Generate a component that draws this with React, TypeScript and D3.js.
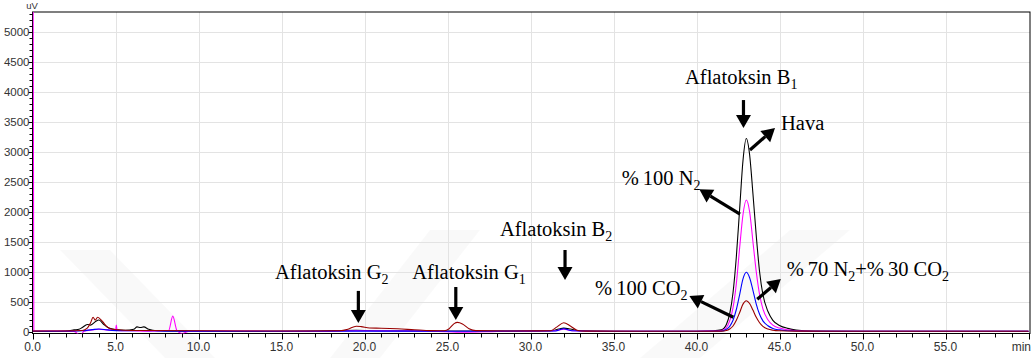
import React, { useEffect, useRef } from 'react';
import * as d3 from 'd3';

// chromatogram traces, [time (min), signal (uV)]
const havaSeries: [number, number][] = [
  [0, 5], [1.5, 8], [2.2, 15], [2.5, 30], [2.8, 40], [3.0, 70], [3.3, 120], [3.5, 110], [3.8, 170],
  [4.0, 195], [4.3, 120], [4.6, 60], [5.0, 35], [5.6, 25], [6.1, 40], [6.3, 80], [6.5, 70], [6.7, 80],
  [7.0, 40], [7.5, 15], [9, 10], [12, 8], [17, 10], [19.5, 25], [21, 15], [25.5, 12], [28, 10],
  [31.3, 15], [31.7, 45], [32.0, 60], [32.4, 45], [32.9, 15], [35, 8], [40, 8], [41.0, 15],
  [41.5, 30], [41.8, 120], [42.0, 300], [42.2, 650], [42.4, 1250], [42.6, 2050], [42.8, 2850],
  [43.0, 3220], [43.2, 2950], [43.4, 2300], [43.6, 1600], [43.8, 1000], [44.0, 620], [44.3, 340],
  [44.6, 190], [45.0, 105], [45.5, 55], [46.0, 28], [47, 12], [50, 8], [55, 6], [60, 6]
];

const n2Series: [number, number][] = [
  [0.04, 5400], [0.08, 15], [1.5, 10], [2.5, 5], [2.9, -60], [3.1, 10], [3.6, 30], [4.0, 40], [4.5, 30],
  [5.0, 20], [5.05, 110], [5.1, 20], [6, 15], [7, 10], [8.2, 20], [8.45, 260], [8.7, 20], [9.0, -30],
  [9.4, 5], [12, 10], [17, 5], [19.5, 15], [24, 10], [26, -10], [28, 5], [31.5, 15], [32.0, 40],
  [32.5, 15], [35, 5], [40, 8], [41.0, 10], [41.5, 20], [41.8, 70], [42.0, 180], [42.2, 400],
  [42.4, 800], [42.6, 1400], [42.8, 1950], [43.0, 2195], [43.2, 2000], [43.4, 1500], [43.6, 1000],
  [43.8, 620], [44.0, 380], [44.3, 200], [44.6, 110], [45.0, 60], [45.5, 30], [46.0, 15], [47, 8],
  [50, 5], [55, 5], [60, 5]
];

const mixSeries: [number, number][] = [
  [0, 5], [2, 8], [3.0, 15], [3.6, 35], [4.0, 45], [4.5, 30], [5.5, 15], [6.5, 20], [8, 10],
  [12, 5], [19.5, 10], [25.5, 8], [31.5, 12], [32.0, 50], [32.5, 15], [35, 5], [40, 5], [41.0, 8],
  [41.5, 10], [41.8, 40], [42.0, 90], [42.2, 190], [42.4, 370], [42.6, 620], [42.8, 880], [43.0, 990],
  [43.2, 900], [43.4, 690], [43.6, 460], [43.8, 290], [44.0, 180], [44.3, 100], [44.6, 55],
  [45.0, 30], [45.5, 15], [46.5, 8], [50, 5], [60, 5]
];

const co2Series: [number, number][] = [
  [0, 10], [2, 12], [3.0, 20], [3.3, 60], [3.5, 150], [3.65, 240], [3.78, 195], [3.92, 240],
  [4.2, 175], [4.5, 80], [4.8, 40], [5.5, 25], [7, 20], [10, 15], [15, 12], [18.5, 15], [19.0, 40],
  [19.5, 92], [19.8, 85], [20.3, 62], [21, 58], [22, 48], [23, 32], [24, 18], [24.8, 16],
  [25.1, 50], [25.4, 135], [25.6, 155], [25.9, 130], [26.3, 50], [26.7, 18], [29, 12], [31.2, 15],
  [31.6, 80], [32.0, 150], [32.4, 95], [32.8, 25], [33.3, 10], [40, 8], [41.0, 8], [41.5, 10],
  [41.8, 20], [42.0, 45], [42.2, 95], [42.4, 190], [42.6, 320], [42.8, 460], [43.0, 517],
  [43.2, 470], [43.4, 360], [43.6, 240], [43.8, 150], [44.0, 90], [44.3, 45], [44.6, 25],
  [45.0, 15], [46, 10], [50, 8], [60, 8]
];

const seriesList = [
  { name: 'Hava', data: havaSeries, color: '#000000' },
  { name: '%100 N2', data: n2Series, color: '#ff00ff' },
  { name: '%70 N2+%30 CO2', data: mixSeries, color: '#0000ff' },
  { name: '%100 CO2', data: co2Series, color: '#990000' }
];

const xMajorTicks = [0, 5, 10, 15, 20, 25, 30, 35, 40, 45, 50, 55];
const yMajorTicks = [0, 500, 1000, 1500, 2000, 2500, 3000, 3500, 4000, 4500, 5000];

// down arrows over the aflatoxin peaks: [label, subscript, arrow time, arrow top, arrow tip, label time, label value]
const peakLabels: [string, string, number, number, number, number, number][] = [
  ['Aflatoksin G', '2', 19.63, 680, 145, 14.61, 878],
  ['Aflatoksin G', '1', 25.5, 745, 195, 22.88, 878],
  ['Aflatoksin B', '2', 32.08, 1362, 862, 28.16, 1595],
  ['Aflatoksin B', '1', 42.83, 3862, 3395, 39.31, 4128]
];

const SANS = "'Liberation Sans', Arial, Helvetica, sans-serif";
const SERIF = "'Liberation Serif', 'DejaVu Serif', serif";

export default function App() {
  const svgRef = useRef<SVGSVGElement>(null);

  useEffect(() => {
    const width = 1033;
    const height = 358;
    const svg = d3.select(svgRef.current);
    svg.selectAll('*').remove();
    svg.attr('width', width).attr('height', height);

    const x = d3.scaleLinear().domain([0, 60]).range([32.5, 1028.5]);
    const y = d3.scaleLinear().domain([-30, 5330]).range([333.5, 12]);
    const left = 32.5, right = 1030, top = 12, bottom = 333.5;

    // faint watermark bands
    const wm = svg.append('g').attr('fill', '#000').attr('opacity', 0.022);
    const bands = [
      [[60, 250], [110, 250], [215, 358], [165, 358]],
      [[330, 358], [380, 358], [480, 230], [430, 230]],
      [[640, 358], [700, 358], [850, 230], [790, 230]]
    ];
    bands.forEach(b => wm.append('polygon').attr('points', b.map(p => p.join(',')).join(' ')));

    // grid
    const grid = svg.append('g').attr('stroke', '#e3e3e3').attr('stroke-width', 1);
    xMajorTicks.filter(t => t > 0).forEach(t => {
      grid.append('line').attr('x1', Math.round(x(t)) + 0.5).attr('x2', Math.round(x(t)) + 0.5)
        .attr('y1', top).attr('y2', bottom);
    });
    yMajorTicks.filter(t => t > 0).forEach(t => {
      grid.append('line').attr('y1', Math.round(y(t)) + 0.5).attr('y2', Math.round(y(t)) + 0.5)
        .attr('x1', left).attr('x2', right);
    });

    // frame
    svg.append('rect')
      .attr('x', left).attr('y', top).attr('width', right - left).attr('height', bottom - top)
      .attr('fill', 'none').attr('stroke', '#000').attr('stroke-width', 1);

    // traces
    svg.append('defs').append('clipPath').attr('id', 'plotClip')
      .append('rect').attr('x', left).attr('y', top).attr('width', right - left).attr('height', bottom - top);

    const line = d3.line<[number, number]>()
      .x(d => x(d[0]))
      .y(d => y(d[1]))
      .curve(d3.curveMonotoneX);

    const traces = svg.append('g').attr('clip-path', 'url(#plotClip)');
    seriesList.forEach(s => {
      traces.append('path')
        .attr('d', line(s.data))
        .attr('fill', 'none')
        .attr('stroke', s.color)
        .attr('stroke-width', 1.1);
    });

    // y axis ticks
    const yAxis = svg.append('g').attr('stroke', '#000');
    d3.range(0, 5400, 100).forEach(v => {
      const major = v % 500 === 0;
      yAxis.append('line').attr('x1', left - (major ? 4 : 3)).attr('x2', left)
        .attr('y1', Math.round(y(v)) + 0.5).attr('y2', Math.round(y(v)) + 0.5);
    });
    svg.append('g').selectAll('text').data(yMajorTicks).enter().append('text')
      .attr('x', left - 3).attr('y', d => y(d) + 4)
      .attr('text-anchor', 'end')
      .style('font-family', SANS)
      .attr('font-size', 11.5).attr('fill', '#333')
      .text(d => d);

    // x axis ticks
    const xAxis = svg.append('g').attr('stroke', '#000');
    d3.range(0, 61, 1).forEach(t => {
      const major = t % 5 === 0;
      xAxis.append('line').attr('x1', Math.round(x(t)) + 0.5).attr('x2', Math.round(x(t)) + 0.5)
        .attr('y1', bottom).attr('y2', bottom + (major ? 6 : 4));
    });
    svg.append('g').selectAll('text').data(xMajorTicks).enter().append('text')
      .attr('x', d => x(d)).attr('y', 351)
      .attr('text-anchor', 'middle')
      .style('font-family', SANS)
      .attr('font-size', 12).attr('fill', '#333')
      .text(d => d3.format('.1f')(d));
    svg.append('text').attr('x', 1031).attr('y', 351).attr('text-anchor', 'end')
      .style('font-family', SANS).attr('font-size', 12).attr('fill', '#333')
      .text('min');
    svg.append('text').attr('x', 32).attr('y', 9).attr('text-anchor', 'middle')
      .style('font-family', SANS).attr('font-size', 9.5).attr('fill', '#333')
      .text('uV');

    // annotations
    const ann = svg.append('g').attr('fill', '#000');
    const arrow = (x1: number, y1: number, x2: number, y2: number) => {
      const ang = Math.atan2(y2 - y1, x2 - x1);
      const headLen = 13, headW = 7.5;
      const bx = x2 - headLen * Math.cos(ang), by = y2 - headLen * Math.sin(ang);
      ann.append('line').attr('x1', x1).attr('y1', y1).attr('x2', bx).attr('y2', by)
        .attr('stroke', '#000').attr('stroke-width', 3.2);
      const px = -Math.sin(ang) * headW, py = Math.cos(ang) * headW;
      ann.append('polygon')
        .attr('points', `${x2},${y2} ${bx + px},${by + py} ${bx - px},${by - py}`)
        .attr('fill', '#000');
    };
    const label = (tx: number, ty: number, parts: [string, boolean][]) => {
      const t = ann.append('text').attr('x', tx).attr('y', ty)
        .style('font-family', SERIF).attr('font-size', 20.5);
      parts.forEach(([s, sub], i) => {
        const prevSub = i > 0 && parts[i - 1][1];
        const sp = t.append('tspan').text(s);
        if (sub) sp.attr('font-size', 14).attr('dy', 5);
        else if (prevSub) sp.attr('dy', -5);
      });
    };

    peakLabels.forEach(([txt, sub, t, vTop, vTip, lt, lv]) => {
      arrow(x(t), y(vTop), x(t), y(vTip));
      label(x(lt), y(lv), [[txt, false], [sub, true]]);
    });

    arrow(x(43.22), y(3028), x(44.73), y(3395));
    label(x(45.09), y(3362), [['Hava', false]]);

    arrow(x(42.62), y(1962), x(40.17), y(2373));
    label(x(35.49), y(2445), [['%\u2009100 N', false], ['2', true]]);

    arrow(x(42.22), y(240), x(39.57), y(595));
    label(x(33.89), y(612), [['%\u2009100 CO', false], ['2', true]]);

    arrow(x(43.66), y(540), x(45.08), y(878));
    label(x(45.43), y(933), [['%\u200970 N', false], ['2', true], ['+%\u200930 CO', false], ['2', true]]);
  }, []);

  return (
    <div style={{ position: 'absolute', left: 0, top: 0, width: 1033, height: 358, background: '#fff' }}>
      <svg ref={svgRef}></svg>
    </div>
  );
}
